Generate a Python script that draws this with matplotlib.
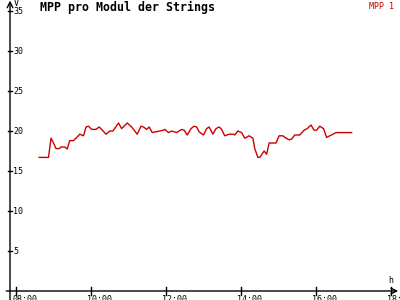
import matplotlib
matplotlib.use('Agg')
import matplotlib.pyplot as plt

# MPP 1 - voltage per module
times = ['08:37', '08:52', '08:56', '09:00', '09:04', '09:09', '09:12', '09:18', '09:22', '09:26',
         '09:32', '09:36', '09:42', '09:48', '09:52', '09:56', '10:01', '10:08', '10:13', '10:17',
         '10:24', '10:30', '10:35', '10:44', '10:49', '10:58', '11:05', '11:14', '11:20', '11:24',
         '11:29', '11:33', '11:38', '11:44', '11:56', '11:58', '12:04', '12:09', '12:17', '12:25',
         '12:29', '12:34', '12:40', '12:45', '12:49', '12:53', '13:00', '13:05', '13:09', '13:15',
         '13:20', '13:25', '13:29', '13:34', '13:41', '13:48', '13:50', '13:55', '14:01', '14:06',
         '14:13', '14:19', '14:22', '14:27', '14:30', '14:37', '14:41', '14:45', '14:56', '15:01',
         '15:07', '15:12', '15:17', '15:21', '15:26', '15:34', '15:41', '15:46', '15:52', '15:57',
         '16:01', '16:06', '16:12', '16:17', '16:22', '16:27', '16:32', '16:57']
mpp1 = [16.7, 16.7, 19.1, 18.5, 17.8, 17.8, 18.0, 18.0, 17.75, 18.8,
        18.8, 19.1, 19.6, 19.4, 20.5, 20.6, 20.2, 20.2, 20.5, 20.2,
        19.6, 20.0, 20.0, 21.0, 20.3, 21.0, 20.5, 19.6, 20.6, 20.5,
        20.2, 20.5, 19.8, 19.9, 20.1, 20.2, 19.8, 20.0, 19.8, 20.2,
        20.1, 19.5, 20.3, 20.6, 20.5, 19.9, 19.5, 20.3, 20.5, 19.6,
        20.3, 20.5, 20.2, 19.4, 19.6, 19.6, 19.5, 20.0, 19.8, 19.1,
        19.4, 19.1, 17.8, 16.7, 16.7, 17.5, 17.1, 18.5, 18.5, 19.4,
        19.4, 19.1, 18.9, 19.0, 19.5, 19.5, 20.1, 20.3, 20.75, 20.1,
        20.1, 20.6, 20.3, 19.2, 19.4, 19.6, 19.8, 19.8]

x_ticks = [8, 10, 12, 14, 16, 18]
x_labels = ['08:00', '10:00', '12:00', '14:00', '16:00', '18:00']
y_ticks = [5, 10, 15, 20, 25, 30, 35]

def to_hours(t):
    h, m = t.split(':')
    return int(h) + int(m) / 60.0

hours = [to_hours(t) for t in times]

fig = plt.figure(figsize=(4, 3), dpi=100)
ax = fig.add_axes([0, 0, 1, 1])
ax.set_xlim(7.573, 18.24)
ax.set_ylim(-1.125, 36.375)
ax.axis('off')
x0, x1 = 7.84, 18.19   # y axis position, end of x axis arrow

mono = 'DejaVu Sans Mono'

# axes lines with arrows
ax.annotate('', xy=(x0, 36.3), xytext=(x0, -1.2),
            arrowprops=dict(arrowstyle='->', lw=1, color='black', shrinkA=0, shrinkB=0))
ax.annotate('', xy=(x1, 0), xytext=(x0 - 0.1, 0),
            arrowprops=dict(arrowstyle='->', lw=1, color='black', shrinkA=0, shrinkB=0))

for yt in y_ticks:
    ax.plot([x0 - 0.06, x0 + 0.06], [yt, yt], color='black', lw=1)
    ax.text(x0 + 0.08, yt, str(yt), fontsize=6, family=mono, va='center', ha='left')
for xt, lab in zip(x_ticks, x_labels):
    ax.plot([xt, xt], [-0.5, 0.5], color='black', lw=1)
    ax.text(xt - 0.1, -0.5, lab, fontsize=6, family=mono, va='top', ha='left')

ax.text(x0 + 0.1, 35.9, 'V', fontsize=6, family=mono, va='center', ha='left')
ax.text(18.0, 1.3, 'h', fontsize=6, family=mono, va='center', ha='center')

ax.plot(hours, mpp1, color='#cc0000', lw=1)

fig.text(0.1, 0.975, 'MPP pro Modul der Strings', fontsize=8.4, family=mono,
         weight='bold', va='center', ha='left')
fig.text(0.985, 0.978, 'MPP 1', fontsize=6, family=mono, color='#c00000',
         va='center', ha='right')

fig.savefig('out.png', dpi=100)
